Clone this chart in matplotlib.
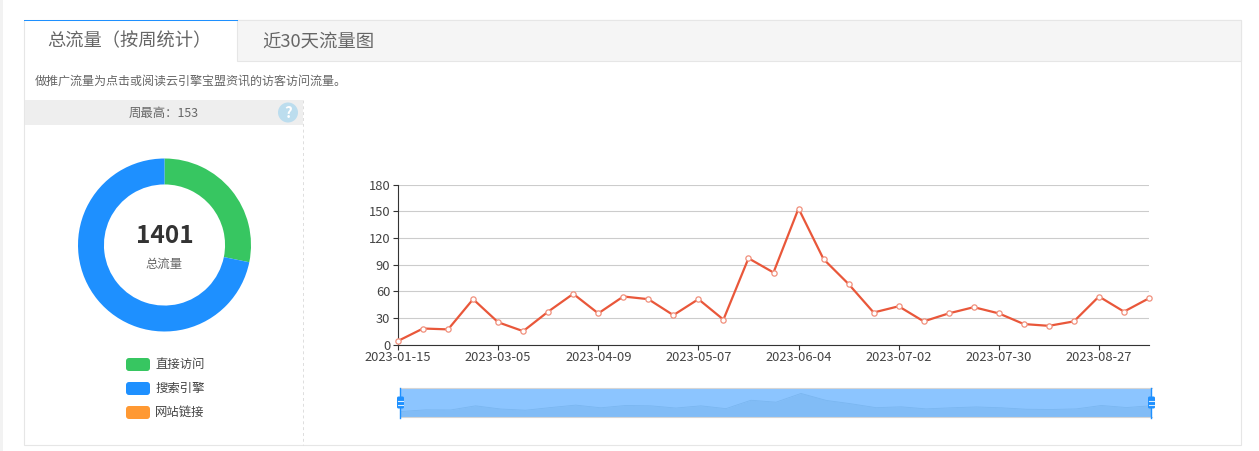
"""Weekly traffic panel: tabs, donut summary, line chart and zoom slider."""

import matplotlib
matplotlib.use("Agg")
import matplotlib.pyplot as plt
from matplotlib.patches import Circle, FancyBboxPatch, Rectangle

plt.rcParams["font.family"] = ["Noto Sans CJK SC", "DejaVu Sans"]

W, H = 1259, 451

# Weekly totals
week_values = [4, 18, 17, 51, 25, 15, 37, 57, 35, 54, 51, 33, 51, 28, 97, 81, 153,
               96, 68, 36, 43, 26, 35, 42, 35, 23, 21, 26, 54, 37, 52]
tick_positions = [0, 4, 8, 12, 16, 20, 24, 28]
tick_dates = ["2023-01-15", "2023-03-05", "2023-04-09", "2023-05-07",
              "2023-06-04", "2023-07-02", "2023-07-30", "2023-08-27"]
y_ticks = [0, 30, 60, 90, 120, 150, 180]

# Donut shares
source_names = ["直接访问", "搜索引擎", "网站链接"]
source_values = [395, 1006, 0]
source_colors = ["#37C661", "#1E90FF", "#FF9933"]

TEXT = "#666666"
LINE = "#E9573A"


def px_axes(left, top, right, bottom, **kw):
    """Axes placed with pixel coordinates measured from the top left."""
    return fig.add_axes([left / W, 1 - bottom / H, (right - left) / W, (bottom - top) / H], **kw)


fig = plt.figure(figsize=(W / 100, H / 100), dpi=100, facecolor="white")

# ---- page chrome, drawn in pixels ----
bg = px_axes(0, 0, W, H)
bg.set_xlim(0, W)
bg.set_ylim(H, 0)
bg.axis("off")

bg.add_patch(Rectangle((0, 0), 3, H, fc="#F2F2F2", ec="none"))
bg.add_patch(Rectangle((24.5, 20), 1217, 425, fc="white", ec="#E6E6E6", lw=0.8))
bg.add_patch(Rectangle((237.5, 20), 1004, 41, fc="#F5F5F5", ec="#E6E6E6", lw=0.8))
bg.add_patch(Rectangle((24, 19.5), 214, 1.5, fc="#1E90FF", ec="none", zorder=3))
bg.text(129.5, 41.5, "总流量（按周统计）", fontsize=13.15, color=TEXT, ha="center", va="center")
bg.text(318, 41.5, "近30天流量图", fontsize=13.2, color=TEXT, ha="center", va="center")
bg.text(34.5, 81.5, "做推广流量为点击或阅读云引擎宝盟资讯的访客访问流量。", fontsize=8.68, color=TEXT,
        va="center")

bg.add_patch(Rectangle((25, 100), 278, 25, fc="#EEEEEE", ec="none"))
bg.plot([303.5, 303.5], [100, 445], color="#DDDDDD", lw=0.7, ls=(0, (3, 3)))
bg.text(163.5, 113, "周最高：153", fontsize=8.9, color=TEXT, ha="center", va="center")
bg.add_patch(Circle((288, 112.5), 10, fc="#BCDDEE", ec="none"))
bg.text(288, 112.5, "?", fontsize=11, color="white", fontweight="bold", ha="center", va="center")

# legend swatches under the donut
for i, (name, color) in enumerate(zip(source_names, source_colors)):
    y = 364.5 + 24 * i
    bg.add_patch(FancyBboxPatch((128, y - 4.5), 20, 9, boxstyle="round,pad=2,rounding_size=3",
                                fc=color, ec="none"))
    bg.text(155, y, name, fontsize=8.9, color="#444444", va="center")

# ---- donut ----
ax_pie = px_axes(78, 158.5, 251, 331.5)
ax_pie.pie(source_values, colors=source_colors, startangle=90, counterclock=False,
           radius=1, wedgeprops={"width": 0.3, "linewidth": 0})
ax_pie.set_xlim(-1, 1)
ax_pie.set_ylim(-1, 1)
ax_pie.text(0, 0.1, "1401", fontsize=17.6, fontweight="bold", color="#333333",
            ha="center", va="center")
ax_pie.text(0, -0.225, "总流量", fontsize=8.9, color=TEXT, ha="center", va="center")

# ---- line chart ----
ax = px_axes(398, 184.5, 1149, 344.5)
x = list(range(len(week_values)))
ax.plot(x, week_values, color=LINE, lw=1.6, marker="o", ms=3.8, mfc="white", mec="#F0907C",
        mew=0.9, clip_on=False, zorder=3)
ax.set_xlim(0, 30)
ax.set_ylim(0, 180)
ax.set_yticks(y_ticks)
ax.set_xticks(tick_positions)
ax.set_xticklabels(tick_dates)
ax.tick_params(axis="x", labelsize=9.3, labelcolor="#444444", color="#333333", length=3.6,
               width=0.8, pad=1)
ax.tick_params(axis="y", labelsize=9.3, labelcolor="#444444", color="#333333", length=3.6,
               width=0.8, pad=2)
ax.yaxis.grid(True, color="#CCCCCC", lw=0.8)
ax.set_axisbelow(True)
for side in ("top", "right"):
    ax.spines[side].set_visible(False)
for side in ("left", "bottom"):
    ax.spines[side].set_color("#333333")
    ax.spines[side].set_linewidth(0.8)

# ---- zoom slider ----
ax_zoom = px_axes(400.5, 388, 1151.5, 417, facecolor="#8CC5FF")
spread = (max(week_values) - min(week_values)) * 0.3
ax_zoom.fill_between(x, week_values, min(week_values) - spread, color="#81BCF6", lw=0)
ax_zoom.plot(x, week_values, color="#7AB6F0", lw=0.6)
ax_zoom.set_xlim(0, 30)
ax_zoom.set_ylim(min(week_values) - spread, max(week_values) + spread)
ax_zoom.set_xticks([])
ax_zoom.set_yticks([])
for side in ("left", "right"):
    ax_zoom.spines[side].set_visible(False)
for side in ("top", "bottom"):
    ax_zoom.spines[side].set_color("#D5D5D5")
    ax_zoom.spines[side].set_linewidth(0.8)

# slider handles on top of everything
top = px_axes(0, 0, W, H, facecolor="none")
top.set_xlim(0, W)
top.set_ylim(H, 0)
top.axis("off")
for hx in (400.5, 1151.5):
    top.plot([hx, hx], [388, 418], color="#1E90FF", lw=1)
    top.add_patch(FancyBboxPatch((hx - 2.5, 397.5), 5, 10, boxstyle="round,pad=1,rounding_size=1.5",
                                 fc="#1E90FF", ec="none"))
    for dy in (400.5, 405):
        top.plot([hx - 2.2, hx + 2.2], [dy, dy], color="white", lw=0.8, alpha=0.85)

fig.savefig("out.png", dpi=100)
